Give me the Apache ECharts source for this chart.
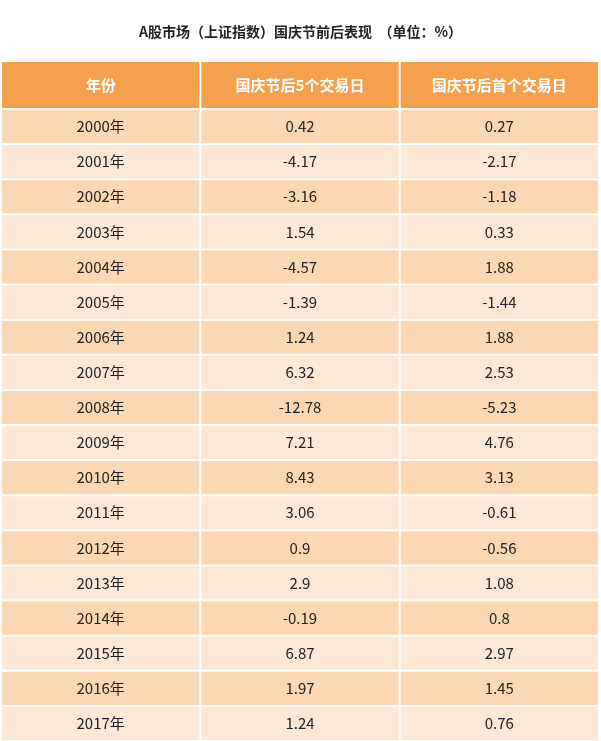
<!DOCTYPE html>
<html lang="en">
<head>
<meta charset="UTF-8">
<title>A股国庆节前后表现</title>
<script src="https://cdn.jsdelivr.net/npm/echarts@6/dist/echarts.min.js"></script>
<style>
  html, body { margin: 0; padding: 0; background: #fff; }
  #chart { width: 601px; height: 741px; }
</style>
</head>
<body>
<div id="chart"></div>
<script>
  const headers = ['年份', '国庆节后5个交易日', '国庆节后首个交易日'];
  const years = ['2000年', '2001年', '2002年', '2003年', '2004年', '2005年', '2006年', '2007年', '2008年',
    '2009年', '2010年', '2011年', '2012年', '2013年', '2014年', '2015年', '2016年', '2017年'];
  const after5 = ['0.42', '-4.17', '-3.16', '1.54', '-4.57', '-1.39', '1.24', '6.32', '-12.78',
    '7.21', '8.43', '3.06', '0.9', '2.9', '-0.19', '6.87', '1.97', '1.24'];
  const firstDay = ['0.27', '-2.17', '-1.18', '0.33', '1.88', '-1.44', '1.88', '2.53', '-5.23',
    '4.76', '3.13', '-0.61', '-0.56', '1.08', '0.8', '2.97', '1.45', '0.76'];

  const chart = echarts.init(document.getElementById('chart'));
  const font = '"Noto Sans CJK SC", sans-serif';

  // 单元格：x 列, y 行, 文本
  const headerCells = headers.map((h, i) => [i, 0, h]);
  const bodyCells = [];
  years.forEach((y, r) => {
    bodyCells.push([0, r, y], [1, r, after5[r]], [2, r, firstDay[r]]);
  });

  function cellRenderer(fillFn, textColor, fontSize, fontWeight) {
    return function (params, api) {
      const c = api.coord([api.value(0), api.value(1)]);
      const s = api.size([1, 1]);
      return {
        type: 'rect',
        shape: { x: c[0] - s[0] / 2 + 1, y: c[1] - s[1] / 2 + 1, width: s[0] - 2, height: s[1] - 2 },
        style: { fill: fillFn(api.value(1)) },
        textContent: {
          style: { text: String(api.value(2)), fill: textColor, fontSize: fontSize, fontWeight: fontWeight, fontFamily: font }
        },
        textConfig: { position: 'inside' }
      };
    };
  }

  const hiddenAxis = { show: false };

  chart.setOption({
    backgroundColor: '#fff',
    title: {
      text: 'A股市场（上证指数）国庆节前后表现  （单位：%）',
      left: 'center',
      top: 20,
      textStyle: { fontSize: 14, fontWeight: 'bold', color: '#222', fontFamily: font }
    },
    grid: [
      { left: 1, right: 2, top: 61, height: 48 },
      { left: 1, right: 2, top: 109, bottom: 0 }
    ],
    xAxis: [
      { type: 'category', gridIndex: 0, data: [0, 1, 2], ...hiddenAxis },
      { type: 'category', gridIndex: 1, data: [0, 1, 2], ...hiddenAxis }
    ],
    yAxis: [
      { type: 'category', gridIndex: 0, data: [0], inverse: true, ...hiddenAxis },
      { type: 'category', gridIndex: 1, data: years.map((_, i) => i), inverse: true, ...hiddenAxis }
    ],
    series: [
      {
        type: 'custom', xAxisIndex: 0, yAxisIndex: 0,
        renderItem: cellRenderer(() => '#f4a04c', '#fff', 15, 'bold'),
        data: headerCells
      },
      {
        type: 'custom', xAxisIndex: 1, yAxisIndex: 1,
        renderItem: cellRenderer(r => (r % 2 === 0 ? '#fbd7b4' : '#fde8d6'), '#222', 15, 'normal'),
        data: bodyCells
      }
    ]
  });
</script>
</body>
</html>
